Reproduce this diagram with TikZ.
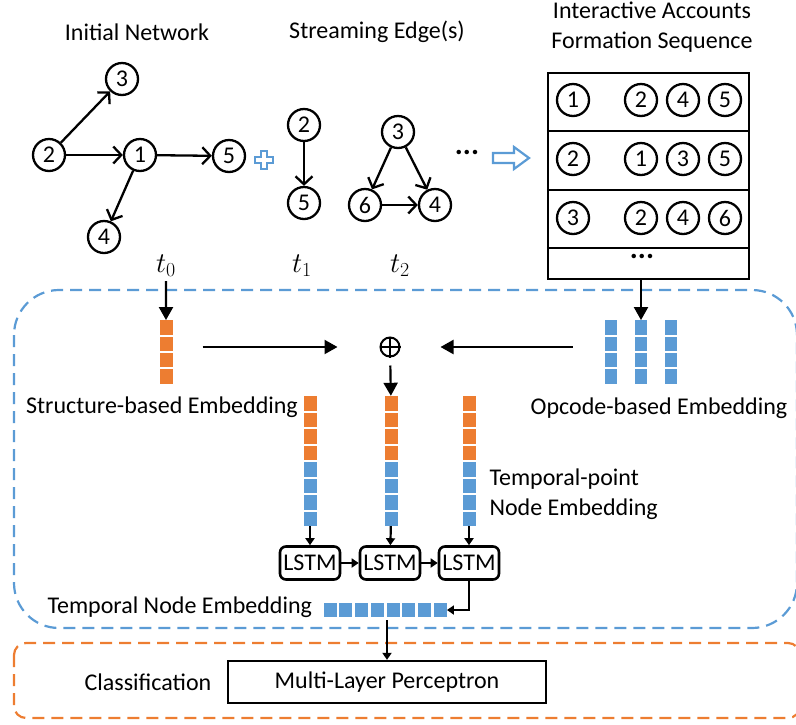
\documentclass[tikz,border=0pt]{standalone}
\usepackage{fontspec}
\setmainfont{Carlito}
\usetikzlibrary{arrows.meta,positioning}

\definecolor{accblue}{HTML}{5B9BD5}
\definecolor{accorange}{HTML}{ED7D31}

\tikzset{
  acc/.style={draw,circle,line width=2.3pt,minimum size=32pt,inner sep=0pt},
  edge/.style={line width=2.3pt,-{Straight Barb[length=8pt,width=17pt]}},
  flow/.style={line width=2.2pt,-{Triangle[length=13pt,width=14pt]}},
  tiny/.style={line width=2.2pt,-{Triangle[length=7pt,width=9pt]}},
  ocell/.style={fill=accorange,minimum width=13pt,minimum height=14.5pt,inner sep=0pt},
  bcell/.style={fill=accblue,minimum width=13pt,minimum height=14.5pt,inner sep=0pt},
  lstm/.style={draw,line width=2.6pt,rounded corners=6pt,minimum width=60pt,minimum height=33pt,inner sep=1pt},
  frame/.style={line width=2.2pt,dash pattern=on 12pt off 7pt},
  bigdots/.style={font=\fontsize{30}{30}\selectfont\bfseries},
}

\begin{document}
\begin{tikzpicture}[x=1pt,y=-1pt,font=\fontsize{24}{30}\selectfont]
\useasboundingbox (0,0) rectangle (796,724);

\draw[frame,accblue,rounded corners=45pt] (14,290) rectangle (797,628);
\draw[frame,accorange,rounded corners=12pt] (14,643) rectangle (800,718);

\node (tinit) at (137,32) {Initial Network};
\node (tstream) at (377,32) {Streaming Edge(s)};
\node[align=center] (tseq) at (652,27) {Interactive Accounts\\Formation Sequence};

\node[acc] (a3) at (122,79) {3};
\node[acc] (a2) at (49,155) {2};
\node[acc] (a1) at (140,155) {1};
\node[acc] (a5) at (229,156) {5};
\node[acc] (a4) at (104,237) {4};
\draw[edge] (a2) -- (a3);
\draw[edge] (a2) -- (a1);
\draw[edge] (a1) -- (a5);
\draw[edge] (a1) -- (a4);

\draw[accblue,line width=2.2pt,fill=white] (261,151) -- (267,151) -- (267,157) -- (273,157) -- (273,163)
  -- (267,163) -- (267,169) -- (261,169) -- (261,163) -- (255,163) -- (255,157) -- (261,157) -- cycle;

\node[acc] (b2) at (304,125) {2};
\node[acc] (b5) at (304,203) {5};
\draw[edge] (b2) -- (b5);

\node[acc] (c3) at (398,132) {3};
\node[acc] (c6) at (365,205) {6};
\node[acc] (c4) at (435,205) {4};
\draw[edge] (c3) -- (c6);
\draw[edge] (c3) -- (c4);
\draw[edge] (c6) -- (c4);

\node[bigdots] (more) at (467,152) {...};
\draw[accblue,line width=2.2pt,fill=white] (493,153) -- (514,153) -- (514,147) -- (529,158) -- (514,169)
  -- (514,163) -- (493,163) -- cycle;

\node[draw,line width=2.3pt,minimum width=201pt,minimum height=206pt,inner sep=0pt] (seq) at (648.5,176) {};
\foreach \y in {131,190,248}
  \draw[line width=2.3pt] (seq.west |- 0,\y) -- (seq.east |- 0,\y);
\foreach \r/\y/\a/\b/\c/\d in {1/100/1/2/4/5,2/159/2/1/3/5,3/218/3/2/4/6} {
  \node[acc] (r\r a) at (573,\y) {\a};
  \node[acc] (r\r b) at (641,\y) {\b};
  \node[acc] (r\r c) at (683,\y) {\c};
  \node[acc] (r\r d) at (725,\y) {\d};
}
\node[bigdots] (seqmore) at (642,256) {...};

\node[scale=1.15] (t0) at (166,266) {$t_0$};
\node[scale=1.15] (t1) at (302,266) {$t_1$};
\node[scale=1.15] (t2) at (400,266) {$t_2$};

\foreach \i in {1,...,4} {
  \node[ocell] (sb\i) at (166,{311.25+\i*16.25}) {};
  \node[bcell,minimum width=12pt] (oa\i) at (611,{311.25+\i*16.25}) {};
  \node[bcell,minimum width=12pt] (ob\i) at (641,{311.25+\i*16.25}) {};
  \node[bcell,minimum width=12pt] (oc\i) at (671,{311.25+\i*16.25}) {};
}
\node (sbtxt) at (162,407) {Structure-based Embedding};
\node (obtxt) at (659,408) {Opcode-based Embedding};

\node[draw,circle,line width=2pt,minimum size=19pt,inner sep=0pt] (oplus) at (390,347) {};
\draw[line width=1.6pt] (oplus.north) -- (oplus.south) (oplus.west) -- (oplus.east);
\draw[flow] (t0) -- (sb1);
\draw[flow] (seq.south -| ob1) -- (ob1);
\draw[flow,shorten <=30pt,shorten >=42pt] (sb2.east |- oplus) -- (oplus.west);
\draw[flow,shorten <=32pt,shorten >=40pt] (oa2.west |- oplus) -- (oplus.east);

\foreach \n/\x in {1/310,2/391,3/469} {
  \foreach \i in {1,...,4}
    \node[ocell] (tp\n-\i) at (\x,{386.75+\i*16.5}) {};
  \foreach \i in {5,...,8}
    \node[bcell] (tp\n-\i) at (\x,{386.75+\i*16.5}) {};
}
\draw[flow,shorten <=8pt] (oplus) -- (tp2-1);
\node[align=left,anchor=west] (tptxt) at (486,494) {Temporal-point\\Node Embedding};

\node[lstm] (lstm1) at (310,563) {LSTM};
\node[lstm] (lstm2) at (390,563) {LSTM};
\node[lstm] (lstm3) at (469,563) {LSTM};
\foreach \n in {1,2,3}
  \draw[tiny] (tp\n-8) -- (lstm\n);
\draw[tiny] (lstm1) -- (lstm2);
\draw[tiny] (lstm2) -- (lstm3);

\foreach \i in {1,...,8}
  \node[bcell,minimum height=14pt] (row\i) at ({314.25+\i*15.75},610) {};
\node[anchor=west] (tntxt) at (44,607) {Temporal Node Embedding};
\draw[tiny] (lstm3) |- (row8);

\node (cls) at (148,682) {Classification};
\node[draw,line width=2.3pt,minimum width=318pt,minimum height=42pt] (mlp) at (387,682) {Multi-Layer Perceptron};
\coordinate (rowout) at (387,620);
\draw[tiny] (rowout) -- (mlp);
\end{tikzpicture}
\end{document}
